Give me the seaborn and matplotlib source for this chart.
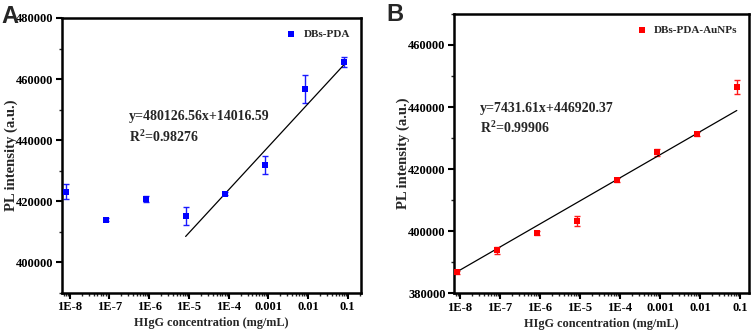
import numpy as np
import pandas as pd
import matplotlib
matplotlib.use("Agg")
import matplotlib.pyplot as plt
import matplotlib.ticker as mticker
import seaborn as sns

# ---- data ----
conc = [8.3e-9, 8.3e-8, 8.3e-7, 8.3e-6, 8.3e-5, 8.3e-4, 8.3e-3, 8.3e-2]
tick_vals = [1e-8, 1e-7, 1e-6, 1e-5, 1e-4, 1e-3, 1e-2, 1e-1]
tick_labels = ["1E-8", "1E-7", "1E-6", "1E-5", "1E-4", "0.001", "0.01", "0.1"]

pl_a = [423200, 414000, 420900, 415300, 422500, 431900, 456700, 465500]
err_a = [2400, 500, 1000, 3000, 500, 2800, 4500, 1700]
fit_a_x = [8.3e-6, 7.8e-2]
fit_a_y = [408500, 464500]
eq_a = "y=480126.56x+14016.59"
r2_a = "0.98276"

pl_b = [386700, 393800, 399400, 403300, 416500, 425400, 431200, 446500]
err_b = [600, 1100, 600, 1500, 600, 1100, 600, 2300]
slope_b = 7431.61
intercept_b = 446920.37
eq_b = "y=7431.61x+446920.37"
r2_b = "0.99906"

series_a = "DBs-PDA"
series_b = "DBs-PDA-AuNPs"
xlabel = "HIgG concentration (mg/mL)"
ylabel = "PL intensity (a.u.)"

sns.set_theme(style="white")
plt.rcParams['font.family'] = ['Liberation Serif', 'DejaVu Serif']
plt.rcParams['font.weight'] = 'bold'
plt.rcParams['mathtext.fontset'] = 'custom'
plt.rcParams['mathtext.rm'] = 'Liberation Serif:bold'
plt.rcParams['mathtext.bf'] = 'Liberation Serif:bold'

fig = plt.figure(figsize=(7.54, 3.35), dpi=100)
axA = fig.add_axes([0.0822, 0.1254, 0.3966, 0.821])
axB = fig.add_axes([0.602, 0.1245, 0.391, 0.834])


def style_ax(ax, ylim, yticks, xlim):
    ax.set_xscale("log")
    ax.set_xlim(*xlim)
    ax.set_ylim(*ylim)
    ax.set_xticks(tick_vals)
    ax.set_xticklabels(tick_labels)
    ax.xaxis.set_minor_locator(mticker.LogLocator(base=10, subs=np.arange(2, 10), numticks=20))
    ax.xaxis.set_minor_formatter(mticker.NullFormatter())
    ax.set_yticks(yticks)
    ax.set_yticklabels([str(v) for v in yticks])
    ax.yaxis.set_minor_locator(mticker.AutoMinorLocator(2))
    for s in ax.spines.values():
        s.set_linewidth(1.8)
        s.set_color("black")
    ax.tick_params(axis="both", which="major", direction="out", length=4, width=1.5,
                   labelsize=9, colors="black", bottom=True, left=True, top=False, right=False, pad=2)
    ax.tick_params(axis="both", which="minor", direction="out", length=2, width=1.0,
                   bottom=True, left=True, top=False, right=False)
    for lab in ax.get_xticklabels() + ax.get_yticklabels():
        lab.set_fontweight("bold")
    ax.set_xlabel(xlabel, fontsize=8.8, fontweight="bold", labelpad=3)
    ax.set_ylabel(ylabel, fontsize=10.5, fontweight="bold")
    ax.yaxis.set_label_coords(-0.148, 0.5)
    ax.grid(False)


# ---- panel A ----
dfA = pd.DataFrame({"conc": conc, "pl": pl_a})
axA.errorbar(conc, pl_a, yerr=err_a, fmt="none", ecolor="#1a1aff", elinewidth=1.0, capsize=2.5, capthick=1.0)
sns.scatterplot(data=dfA, x="conc", y="pl", ax=axA, marker="s", s=22, color="#0000ff",
                edgecolor="#0000ff", linewidth=0, label=series_a, zorder=3)
sns.lineplot(x=fit_a_x, y=fit_a_y, ax=axA, color="black", linewidth=0.9, legend=False)
style_ax(axA, (390000, 480000), [400000, 420000, 440000, 460000, 480000], (10 ** -8.194, 10 ** -0.665))
axA.text(0.224, 0.64, eq_a, transform=axA.transAxes, fontsize=10, fontweight="bold", va="center", ha="left")
axA.text(0.224, 0.567, r"R$^2$=" + r2_a, transform=axA.transAxes, fontsize=10, fontweight="bold",
         va="center", ha="left")
legA = axA.legend(loc="upper right", frameon=False, fontsize=8, handletextpad=0.6, markerscale=0.9,
                  borderaxespad=0.6, handlelength=1.0)
for t in legA.get_texts():
    t.set_fontweight("bold")

# ---- panel B ----
dfB = pd.DataFrame({"conc": conc, "pl": pl_b})
axB.errorbar(conc, pl_b, yerr=err_b, fmt="none", ecolor="#ff1a1a", elinewidth=1.0, capsize=2.5, capthick=1.0)
sns.scatterplot(data=dfB, x="conc", y="pl", ax=axB, marker="s", s=22, color="#ff0000",
                edgecolor="#ff0000", linewidth=0, label=series_b, zorder=3)
fit_b_x = [conc[0], conc[-1]]
fit_b_y = [slope_b * np.log10(c) + intercept_b for c in fit_b_x]
sns.lineplot(x=fit_b_x, y=fit_b_y, ax=axB, color="black", linewidth=0.9, legend=False)
style_ax(axB, (380000, 470000), [380000, 400000, 420000, 440000, 460000], (10 ** -8.15, 10 ** -0.783))
axB.text(0.088, 0.663, eq_b, transform=axB.transAxes, fontsize=10, fontweight="bold", va="center", ha="left")
axB.text(0.088, 0.592, r"R$^2$=" + r2_b, transform=axB.transAxes, fontsize=10, fontweight="bold",
         va="center", ha="left")
legB = axB.legend(loc="upper right", frameon=False, fontsize=8, handletextpad=0.6, markerscale=0.9,
                  borderaxespad=0.6, handlelength=1.0)
for t in legB.get_texts():
    t.set_fontweight("bold")

# panel letters
fig.text(0.002, 0.985, "A", fontsize=17, fontweight="bold", family=["Liberation Sans", "DejaVu Sans"],
         va="top", ha="left")
fig.text(0.513, 0.99, "B", fontsize=17, fontweight="bold", family=["Liberation Sans", "DejaVu Sans"],
         va="top", ha="left")

fig.savefig("out.png", dpi=100)
